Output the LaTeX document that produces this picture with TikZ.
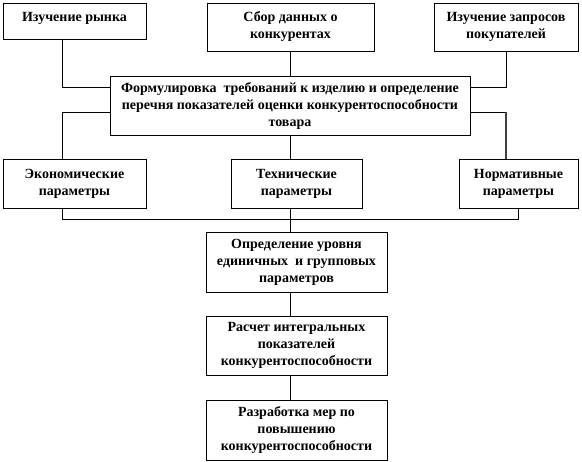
\documentclass[tikz,border=0pt]{standalone}
\usepackage{fontspec}
\setmainfont{Liberation Serif}
\begin{document}
\begin{tikzpicture}[x=1pt,y=-1pt,
  box/.style={draw, line width=0.9pt, inner sep=0pt, align=center,
    font=\fontsize{14}{17}\selectfont\bfseries},
  conn/.style={line width=0.9pt},
  dotline/.style={line width=1.3pt, black!75, dash pattern=on 0.45pt off 0.45pt}]
\useasboundingbox (0,0) rectangle (582,462);
% columns and rows
\coordinate (colL) at (62,0);
\coordinate (colM) at (290,0);
\coordinate (colR) at (506,0);
\coordinate (colR2) at (518,0);
\coordinate (rowA) at (0,87);
\coordinate (rowB) at (0,112);
\coordinate (rowBus) at (0,219);
% boxes
\node[box, minimum width=143pt, minimum height=36pt] (b1) at (74.5,21) {\raisebox{3pt}[\height][\depth]{Изучение рынка}};
\node[box, minimum width=167pt, minimum height=48pt] (b2) at (290.5,27) {Сбор данных о\\конкурентах};
\node[box, minimum width=144pt, minimum height=48pt] (b3) at (506,27) {Изучение запросов\\покупателей};
\node[box, minimum width=360pt, minimum height=59pt] (c) at (290,105.5) {Формулировка\ \ требований к изделию и определение\\перечня показателей оценки конкурентоспособности\\товара};
\node[box, minimum width=143pt, minimum height=49pt] (e1) at (74.5,183.5) {Экономические\\параметры};
\node[box, minimum width=131pt, minimum height=49pt] (e2) at (296.5,183.5) {Технические\\параметры};
\node[box, minimum width=119pt, minimum height=49pt] (e3) at (518.5,183.5) {Нормативные\\параметры};
\node[box, minimum width=181pt, minimum height=60pt] (d) at (296.5,262) {Определение уровня\\единичных\ \ и групповых\\параметров};
\node[box, minimum width=181pt, minimum height=59pt] (r) at (296.5,345.5) {Расчет интегральных\\показателей\\конкурентоспособности};
\node[box, minimum width=181pt, minimum height=60pt] (p) at (296.5,430) {Разработка мер по\\повышению\\конкурентоспособности};
% connectors
\draw[conn] (b1.south -| colL) |- (c.west |- rowA);
\draw[conn] (b2.south -| colM) -- (c.north -| colM);
\draw[conn] (b3.south -| colR) |- (c.east |- rowA);
\draw[conn] (c.west |- rowB) -| (e1.north -| colL);
\draw[conn] (c.south -| colM) -- (e2.north -| colM);
\draw[conn] (c.east |- rowB) -- (colR |- rowB);
\draw[dotline] (colR |- rowB) -- (e3.north -| colR);
\draw[conn] (e1.south -| colL) |- (colR2 |- rowBus) -- (e3.south -| colR2);
\draw[conn] (e2.south -| colM) -- (d.north -| colM);
\draw[conn] (d.south -| colM) -- (r.north -| colM);
\draw[conn] (r.south -| colM) -- (p.north -| colM);
\end{tikzpicture}
\end{document}
